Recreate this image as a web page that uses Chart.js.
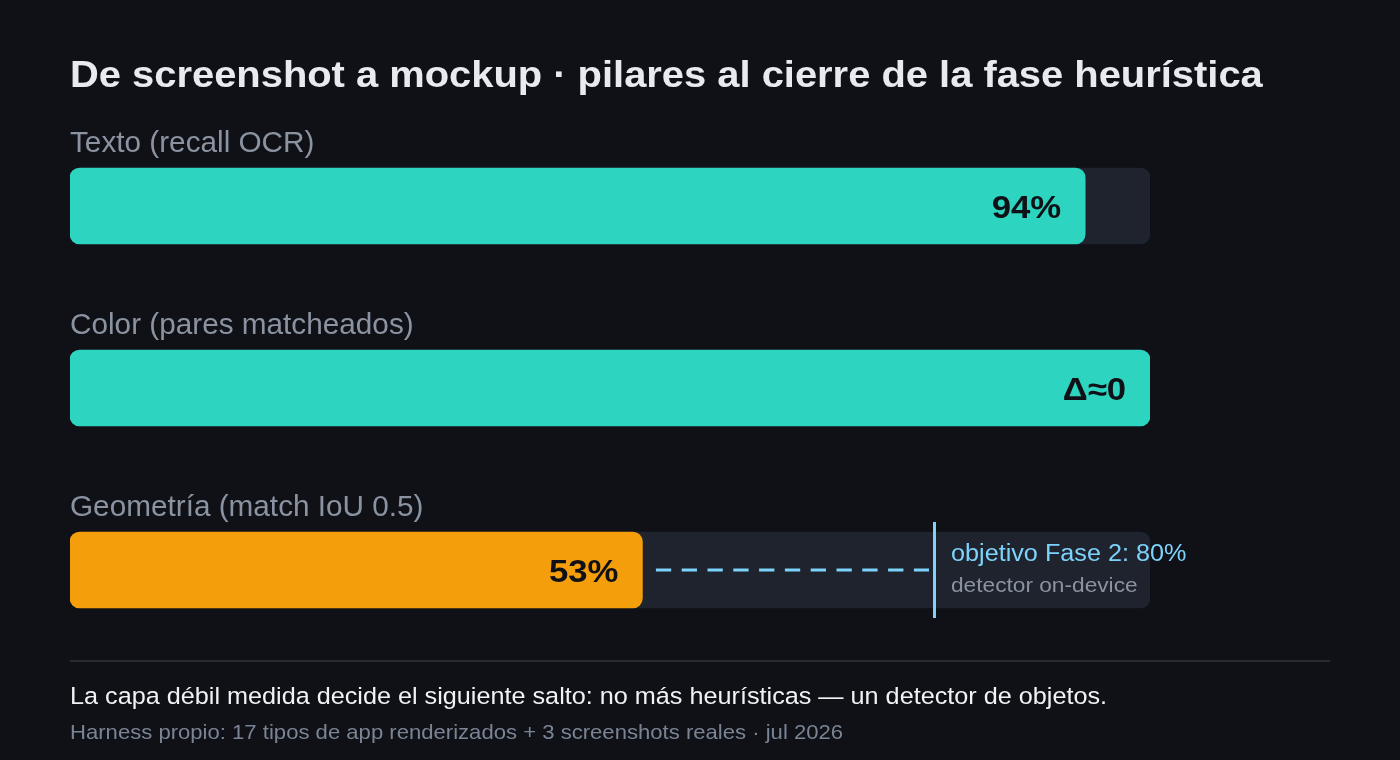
<!DOCTYPE html>
<html>
<head>
<meta charset="utf-8">
<script src="https://cdn.jsdelivr.net/npm/chart.js@4.4.1/dist/chart.umd.min.js"></script>
<style>
  html, body { margin: 0; padding: 0; background: #0f1117; }
  body { width: 1400px; height: 760px; position: relative; overflow: hidden; font-family: "Liberation Sans", Arimo, sans-serif; }
  #wrap { position: absolute; left: 0; top: 0; width: 1400px; height: 760px; }
  .t { position: absolute; left: 70px; white-space: nowrap; line-height: 1; transform-origin: 0 0; }
  .title { top: 56.5px; font-size: 36px; font-weight: 700; color: #e8eaf0; transform: scaleX(1.108); }
  .rule { position: absolute; left: 70px; top: 660px; width: 1260px; height: 2px; background: #262b35; }
  .note { top: 684px; font-size: 24.5px; color: #f0f2f5; transform: scaleX(1.029); }
  .src { top: 721px; font-size: 21px; color: #7b8494; transform: scaleX(1.052); }
</style>
</head>
<body>
<div id="wrap"><canvas id="c" width="1400" height="760"></canvas></div>
<div class="t title">De screenshot a mockup · pilares al cierre de la fase heurística</div>
<div class="rule"></div>
<div class="t note">La capa débil medida decide el siguiente salto: no más heurísticas — un detector de objetos.</div>
<div class="t src">Harness propio: 17 tipos de app renderizados + 3 screenshots reales · jul 2026</div>
<script>
const categories = ['Texto (recall OCR)', 'Color (pares matcheados)', 'Geometría (match IoU 0.5)'];
const values = [94, 100, 53];
const valueLabels = ['94%', 'Δ≈0', '53%'];
const trackValues = [100, 100, 100];
const barColors = ['#2dd4bf', '#2dd4bf', '#f59e0b'];
const targetIndex = 2;
const targetValue = 80;
const targetLabel = 'objetivo Fase 2: 80%';
const targetNote = 'detector on-device';

const FONT = '"Liberation Sans", Arimo, sans-serif';

function wideText(ctx, text, x, y, sx) {
  ctx.save();
  ctx.translate(x, y);
  ctx.scale(sx, 1);
  ctx.fillText(text, 0, 0);
  ctx.restore();
}

const overlay = {
  id: 'overlay',
  afterDatasetsDraw(chart) {
    const ctx = chart.ctx;
    const x = chart.scales.x;
    const meta = chart.getDatasetMeta(0);
    ctx.save();
    ctx.textBaseline = 'alphabetic';
    meta.data.forEach((bar, i) => {
      const top = bar.y - bar.height / 2;
      ctx.font = '29px ' + FONT;
      ctx.fillStyle = '#8b93a1';
      ctx.textAlign = 'left';
      wideText(ctx, categories[i], x.left, top - 16, 1.025);
      ctx.font = '700 31px ' + FONT;
      ctx.fillStyle = '#0f1117';
      ctx.textAlign = 'right';
      wideText(ctx, valueLabels[i], bar.x - 24, bar.y + 12, 1.12);
    });
    const tb = meta.data[targetIndex];
    const tx = x.getPixelForValue(targetValue);
    const top = tb.y - tb.height / 2;
    const bottom = tb.y + tb.height / 2;
    ctx.strokeStyle = '#7dd3fc';
    ctx.lineWidth = 3;
    ctx.setLineDash([15.3, 10.5]);
    ctx.beginPath();
    ctx.moveTo(tb.x + 13.5, tb.y);
    ctx.lineTo(tx - 5, tb.y);
    ctx.stroke();
    ctx.setLineDash([]);
    ctx.beginPath();
    ctx.moveTo(tx + 0.5, top - 10);
    ctx.lineTo(tx + 0.5, bottom + 10);
    ctx.stroke();
    ctx.textAlign = 'left';
    ctx.font = '23px ' + FONT;
    ctx.fillStyle = '#7dd3fc';
    wideText(ctx, targetLabel, tx + 17, tb.y - 9, 1.096);
    ctx.font = '21px ' + FONT;
    ctx.fillStyle = '#8b93a1';
    wideText(ctx, targetNote, tx + 17, tb.y + 22, 1.08);
    ctx.restore();
  }
};

new Chart(document.getElementById('c'), {
  type: 'bar',
  data: {
    labels: categories,
    datasets: [
      { data: values, backgroundColor: barColors, borderRadius: 10, borderSkipped: false, barThickness: 76, grouped: false, order: 1 },
      { data: trackValues, backgroundColor: '#1e232d', borderRadius: 10, borderSkipped: false, barThickness: 76, grouped: false, order: 2 }
    ]
  },
  options: {
    indexAxis: 'y',
    responsive: false,
    animation: false,
    events: [],
    layout: { padding: { left: 70, right: 250, top: 115, bottom: 99 } },
    plugins: { legend: { display: false }, tooltip: { enabled: false }, title: { display: false } },
    scales: {
      x: { display: false, min: 0, max: 100 },
      y: { display: false }
    }
  },
  plugins: [overlay]
});
</script>
</body>
</html>
